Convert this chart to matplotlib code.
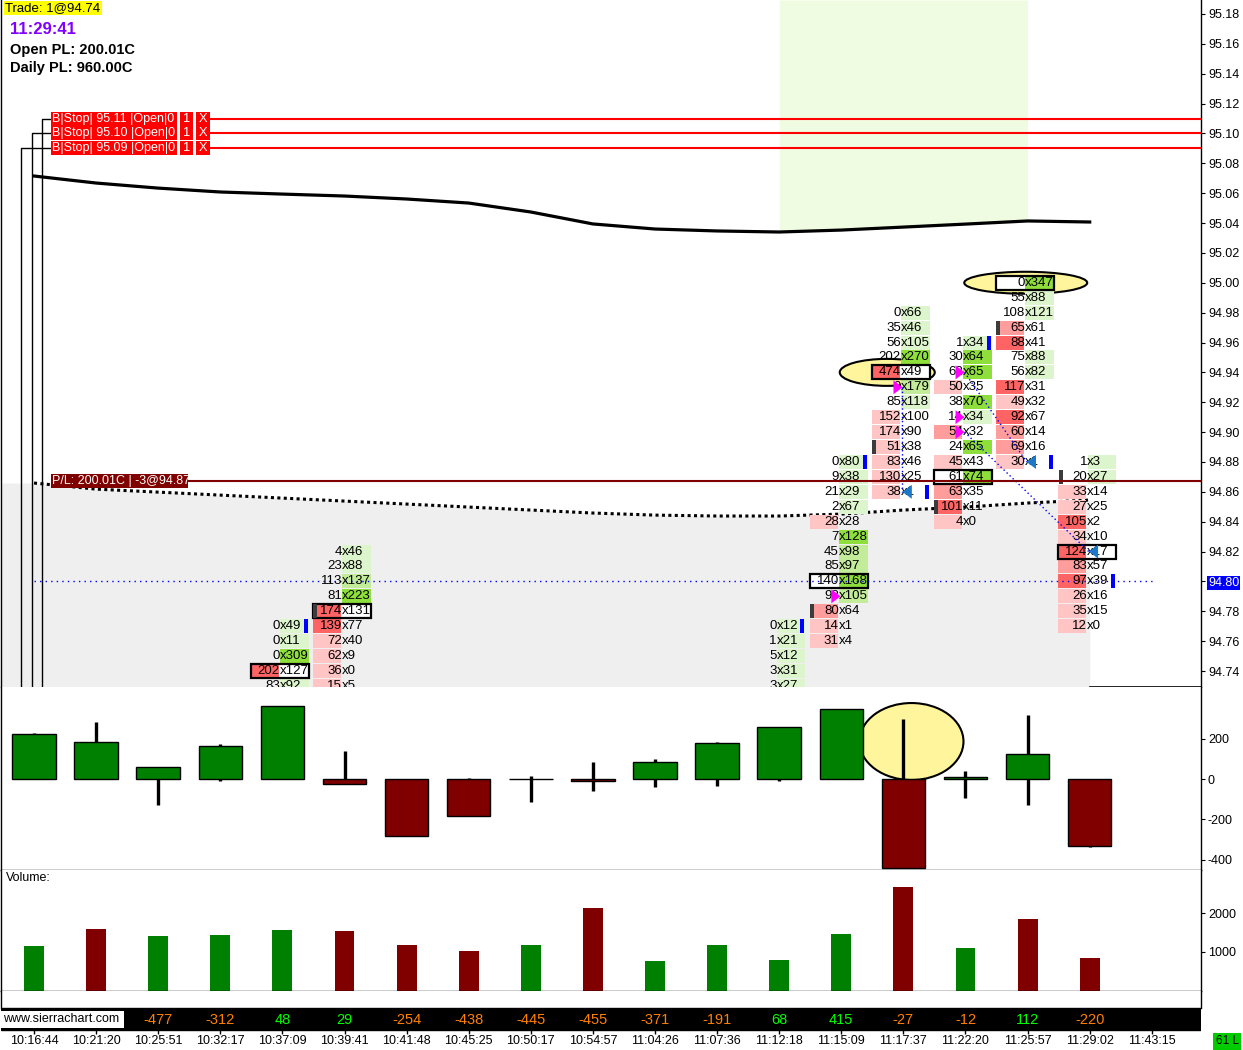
import numpy as np
import matplotlib
matplotlib.use("Agg")
import matplotlib.pyplot as plt
from matplotlib.patches import Rectangle, Ellipse, Polygon
from matplotlib.transforms import blended_transform_factory as blend

plt.rcParams['font.family'] = ['Liberation Sans', 'DejaVu Sans']

W, H = 1243, 1050

# ---- values ----
times = ["10:16:44", "10:21:20", "10:25:51", "10:32:17", "10:37:09", "10:39:41",
         "10:41:48", "10:45:25", "10:50:17", "10:54:57", "11:04:26", "11:07:36",
         "11:12:18", "11:15:09", "11:17:37", "11:22:20", "11:25:57", "11:29:02", "11:43:15"]

# delta candles (every candle opens at 0)
delta_close = [222, 182, 58, 162, 361, -23, -284, -185, -2, -10, 83, 177, 256, 346, -443, 12, 122, -334]
delta_high = [227, 281, 58, 172, 361, 139, 0, 3, 13, 84, 98, 182, 256, 346, 296, 40, 318, 0]
delta_low = [0, 0, -127, -8, 0, -23, -284, -185, -113, -58, -38, -33, -8, 0, -443, -93, -127, -339]

volume = [1154, 1590, 1410, 1436, 1564, 1538, 1179, 1026, 1179, 2128, 769, 1179, 795, 1462, 2667, 1103, 1846, 846]
vol_up = [1, 0, 1, 1, 1, 0, 0, 0, 1, 0, 1, 1, 1, 1, 0, 1, 0, 0]

# numbers in the black strip, starting at bar 2
strip_first = 2
strip_values = [-477, -312, 48, 29, -254, -438, -445, -455, -371, -191, 68, 415, -27, -12, 112, -220]

# study lines on the price panel, one value per bar
upper_line = [95.0715, 95.0668, 95.0634, 95.0608, 95.0594, 95.0581, 95.0561, 95.0534, 95.0474,
              95.0394, 95.0360, 95.0347, 95.0340, 95.0353, 95.0373, 95.0393, 95.0414, 95.0407]
lower_line = [94.8659, 94.8618, 94.8598, 94.8578, 94.8558, 94.8538, 94.8518, 94.8498, 94.8478,
              94.8458, 94.8444, 94.8438, 94.8438, 94.8451, 94.8478, 94.8498, 94.8525, 94.8545]
green_zone = (12, 16)

# footprint: top price of the visible rows, then bid / ask per row going down 0.01
fp_top = {4: 94.77, 5: 94.82, 12: 94.77, 13: 94.88, 14: 94.98, 15: 94.96, 16: 95.00, 17: 94.88}
fp_bid = {
    4: [0, 0, 0, 202, 83],
    5: [4, 23, 113, 81, 174, 139, 72, 62, 36, 15],
    12: [0, 1, 5, 3, 3],
    13: [0, 9, 21, 2, 28, 7, 45, 85, 140, 98, 80, 14, 31],
    14: [0, 35, 56, 202, 474, 9, 85, 152, 174, 51, 83, 130, 38],
    15: [1, 30, 62, 50, 38, 14, 54, 24, 45, 61, 63, 101, 4],
    16: [0, 55, 108, 65, 88, 75, 56, 117, 49, 92, 60, 69, 30],
    17: [1, 20, 33, 27, 105, 34, 124, 83, 97, 26, 35, 12],
}
fp_ask = {
    4: [49, 11, 309, 127, 92],
    5: [46, 88, 137, 223, 131, 77, 40, 9, 0, 5],
    12: [12, 21, 12, 31, 27],
    13: [80, 38, 29, 67, 28, 128, 98, 97, 168, 105, 64, 1, 4],
    14: [66, 46, 105, 270, 49, 179, 118, 100, 90, 38, 46, 25, 1],
    15: [34, 64, 65, 35, 70, 34, 32, 65, 43, 74, 35, 11, 0],
    16: [347, 88, 121, 61, 41, 88, 82, 31, 32, 67, 14, 16, 1],
    17: [3, 27, 14, 25, 2, 10, 17, 57, 39, 16, 15, 0],
}
fp_full_max = {12: 70}  # bar 12 has its biggest rows below the chart
poc = {4: 94.74, 5: 94.78, 13: 94.80, 14: 94.94, 15: 94.87, 16: 95.00, 17: 94.82}
bar_open = {5: 94.78, 13: 94.78, 14: 94.89, 15: 94.85, 16: 94.97, 17: 94.87}
bar_close = {4: 94.77, 12: 94.77, 13: 94.88, 14: 94.86, 15: 94.96, 16: 94.88, 17: 94.80}

up_signals = [(13, 94.79), (14, 94.93), (15, 94.94), (15, 94.91), (15, 94.90)]
down_signals = [(14, 94.86), (16, 94.88), (17, 94.82)]
signal_links = [((14, 94.93), (14, 94.86)), ((15, 94.94), (16, 94.88)), ((15, 94.90), (17, 94.82))]

stop_prices = [95.11, 95.10, 95.09]
stop_qty = [1, 1, 1]
pl_price = 94.867
pl_text = "P/L: 200.01C | -3@94.87"
last_price = 94.80
price_ticks = [round(94.74 + 0.02 * k, 2) for k in range(23)]

# ---- layout ----
fig = plt.figure(figsize=(W / 100, H / 100), dpi=100)
fig.patch.set_facecolor("white")


def panel(top_px, bot_px):
    return fig.add_axes([1 / W, 1 - bot_px / H, 1200 / W, (bot_px - top_px) / H])


ax = panel(0, 687)
axd = panel(687, 870)
axv = panel(870, 991)
axt = panel(991, 1050)

n = len(times)
bars = np.arange(len(delta_close))
XMIN, XMAX = -33 / 62.1, 1167 / 62.1
PPX = 0.02 / 29.864            # price per pixel
for a in (ax, axd, axv, axt):
    a.set_xlim(XMIN, XMAX)
    a.set_xticks([])
    for s in a.spines.values():
        s.set_color("black")
        s.set_linewidth(1.0)

ax.set_ylim(95.18 - 673 * PPX, 95.18 + 14 * PPX)
ybot = ax.get_ylim()[0]
ax.spines["top"].set_visible(False)
ax.spines["bottom"].set_visible(False)
ax.yaxis.tick_right()
ax.set_yticks(price_ticks, labels=[f"{p:.2f}" for p in price_ticks])
ax.tick_params(axis="y", length=3, pad=2, labelsize=9)
for lbl in ax.get_yticklabels():
    if lbl.get_text() == f"{last_price:.2f}":
        lbl.set_color("white")
        lbl.set_bbox(dict(facecolor="#0000FF", edgecolor="none", pad=0.6))

tr = blend(ax.transAxes, ax.transData)


def afrac(px):
    return (px - 1) / 1200


# background zones and study lines
xs_fill = np.r_[XMIN, bars]
ax.fill_between(xs_fill, np.r_[lower_line[0], lower_line], ybot, color="#EFEFEF", lw=0, zorder=0.5)
g0, g1 = green_zone
ax.fill_between(bars[g0:g1 + 1], upper_line[g0:g1 + 1], ax.get_ylim()[1], color="#F0FCE1", lw=0, zorder=0.5)
ax.plot(bars, upper_line, color="black", lw=2.3, zorder=1)
ax.plot(bars, lower_line, color="black", lw=2.2, ls=(0, (1, 1.1)), zorder=1)
ax.plot([bars[-1], XMAX], [ybot, ybot], color="black", lw=1.2, clip_on=False, zorder=6)

# highlight ellipses
ax.add_patch(Ellipse((13.74, 94.94), 1.53, 27 * PPX, fc="#FFF59D", ec="black", lw=1.5, zorder=1.5))
ax.add_patch(Ellipse((15.97, 95.00), 1.98, 22 * PPX, fc="#FFF59D", ec="black", lw=1.5, zorder=1.5))

BID_SHADES = ["#FFC4C4", "#FF9C9C", "#FF6464"]
ASK_SHADES = ["#DDF5CC", "#C2EC9A", "#8EDF3C"]
HALF = 29 / 62.1
DX = -0.045
CH = 14 * PPX


def shade(v, vmax):
    r = v / vmax
    return 2 if r >= 0.7 else (1 if r > 0.5 else 0)


for b, top in fp_top.items():
    c = b + DX
    bids, asks = fp_bid[b], fp_ask[b]
    bmax = max(max(bids), fp_full_max.get(b, 0))
    amax = max(max(asks), fp_full_max.get(b, 0))
    for k, (bv, av) in enumerate(zip(bids, asks)):
        p = round(top - 0.01 * k, 2)
        if poc.get(b) == p:
            ax.add_patch(Rectangle((c - HALF, p - CH / 2), 2 * HALF, CH, fc="white", ec="none", zorder=2))
            ax.add_patch(Rectangle((c - HALF, p - CH / 2), 2 * HALF, CH, fc="none", ec="black", lw=1.6, zorder=3))
        if bv >= av and bv > 0:
            ax.add_patch(Rectangle((c - HALF, p - CH / 2), HALF - 0.01, CH,
                                   fc=BID_SHADES[shade(bv, bmax)], ec="none", zorder=2.5))
        elif av > bv:
            ax.add_patch(Rectangle((c + 0.01, p - CH / 2), HALF - 0.01, CH,
                                   fc=ASK_SHADES[shade(av, amax)], ec="none", zorder=2.5))
        ax.text(c + 0.005, p, str(bv), ha="right", va="center", fontsize=9.5, zorder=4, clip_on=True)
        ax.text(c + 0.005, p, f"x{av}", ha="left", va="center", fontsize=9.5, zorder=4, clip_on=True)
    if b in bar_open:
        p = bar_open[b]
        ax.add_patch(Rectangle((c - HALF + 0.01, p - CH / 2), 0.065, CH, fc="#3C3C3C", ec="none", zorder=3.2))
    if b in bar_close:
        p = bar_close[b]
        ax.add_patch(Rectangle((c + HALF - 0.08, p - CH / 2), 0.065, CH, fc="#0000FF", ec="none", zorder=3.2))

ax.plot([0, n - 1], [last_price, last_price], color="#0000FF", lw=1, ls=(0, (1, 3)), zorder=3.5)

for (b0, p0), (b1, p1) in signal_links:
    ax.plot([b0 + DX + 0.03, b1 + DX + 0.03], [p0, p1], color="#0000FF", lw=1, ls=(0, (1, 2)), zorder=4.5)
for b, p in up_signals:
    c = b + DX
    ax.add_patch(Polygon([(c - 0.115, p + CH / 2), (c - 0.115, p - CH / 2), (c + 0.03, p)],
                         closed=True, fc="#FF00FF", ec="none", zorder=5))
for b, p in down_signals:
    c = b + DX
    ax.add_patch(Polygon([(c + 0.18, p + CH / 2), (c + 0.18, p - CH / 2), (c + 0.03, p)],
                         closed=True, fc="#1E78C8", ec="none", zorder=5))

# stop orders with their labels and the connectors on the left
for p, q, xc in zip(stop_prices, stop_qty, [42, 32, 21]):
    ax.plot([afrac(210), 1], [p, p], color="#FF0000", lw=1.5, transform=tr, zorder=6)
    ax.plot([afrac(xc), afrac(xc), afrac(51)], [ybot, p, p], color="black", lw=1, transform=tr, zorder=6)
    for x0, x1 in [(51, 177), (180, 193), (196, 210)]:
        ax.add_patch(Rectangle((afrac(x0), p - CH / 2), afrac(x1) - afrac(x0), CH,
                               fc="#FF0000", ec="none", transform=tr, zorder=6.5))
    ax.text(afrac(52), p, f"B|Stop| {p:.2f} |Open|0", color="white", fontsize=9,
            ha="left", va="center", transform=tr, zorder=7)
    ax.text(afrac(186.5), p, str(q), color="white", fontsize=9.3, ha="center", va="center", transform=tr, zorder=7)
    ax.text(afrac(203), p, "X", color="white", fontsize=9.3, ha="center", va="center", transform=tr, zorder=7)

ax.plot([afrac(188), 1], [pl_price, pl_price], color="#800000", lw=1.5, transform=tr, zorder=6)
ax.add_patch(Rectangle((afrac(51), pl_price - CH / 2), afrac(188) - afrac(51), CH,
                       fc="#800000", ec="none", transform=tr, zorder=6.5))
ax.text(afrac(52), pl_price, pl_text, color="white", fontsize=9, ha="left", va="center", transform=tr, zorder=7)

# top-left info
fig.text(5 / W, 1 - 8 / H, "Trade: 1@94.74", fontsize=9.5, ha="left", va="center",
         bbox=dict(facecolor="#FFFF00", edgecolor="none", pad=1.0))
fig.text(10 / W, 1 - 30 / H, "11:29:41", fontsize=12, fontweight="bold", color="#8000FF", ha="left", va="center")
fig.text(10 / W, 1 - 50 / H, "Open PL: 200.01C", fontsize=10.5, fontweight="bold", ha="left", va="center")
fig.text(10 / W, 1 - 68 / H, "Daily PL: 960.00C", fontsize=10.5, fontweight="bold", ha="left", va="center")

# delta panel
axd.set_ylim(-(870 - 779) * 4.963, (779 - 687) * 4.963)
axd.spines["top"].set_visible(False)
axd.yaxis.tick_right()
axd.set_yticks([200, 0, -200, -400], labels=["200", "0", "-200", "-400"])
axd.tick_params(axis="y", length=3, pad=2, labelsize=9)
axd.add_patch(Ellipse((14.13, 186), 1.675, 382, fc="#FFF59D", ec="black", lw=1.5, zorder=1))
axd.vlines(bars, delta_low, delta_high, color="black", lw=2.4, zorder=2)
axd.bar(bars, delta_close, width=0.7, bottom=0,
        color=["#008000" if v >= 0 else "#800000" for v in delta_close],
        edgecolor="black", linewidth=1, zorder=3)

# volume panel
axv.set_ylim(0, (991 - 870) / 39 * 1000)
axv.spines["top"].set_visible(False)
axv.yaxis.tick_right()
axv.set_yticks([2000, 1000], labels=["2000", "1000"])
axv.tick_params(axis="y", length=3, pad=2, labelsize=9)
axv.bar(bars, volume, width=0.32, color=["#008000" if u else "#800000" for u in vol_up], zorder=2)
axv.text(0.004, 0.93, "Volume:", transform=axv.transAxes, fontsize=9, ha="left", va="center")

# time scale strip
axt.set_ylim(1050, 991)
axt.set_yticks([])
axt.spines["top"].set_visible(False)
axt.spines["bottom"].set_visible(False)
axt.spines["left"].set_bounds(991, 1008)
axt.spines["right"].set_bounds(991, 1008)
axt.axhspan(1008, 1030, color="black", zorder=1)
ttr = blend(axt.transAxes, axt.transData)
axt.add_patch(Rectangle((0, 1010.5), afrac(124), 17.5, fc="white", ec="none", transform=ttr, zorder=2))
axt.text(afrac(3), 1019.5, "www.sierrachart.com", fontsize=9, ha="left", va="center", transform=ttr, zorder=3)
for i, v in enumerate(strip_values):
    axt.text(strip_first + i, 1019.5, str(v), fontsize=10.5, ha="center", va="center",
             color="#00FF00" if v > 0 else "#FF8000", zorder=3)
axt.vlines(np.arange(n), 1030, 1033.5, color="black", lw=1)
for i, t in enumerate(times):
    axt.text(i, 1041.5, t, fontsize=9, ha="center", va="center")

fig.patches.append(Rectangle((1213 / W, 0), 28 / W, 17 / H, transform=fig.transFigure,
                             facecolor="#00CC00", edgecolor="none"))
fig.text(1227 / W, 8.5 / H, "61 L", fontsize=8.5, ha="center", va="center")

fig.savefig("out.png", dpi=100)
